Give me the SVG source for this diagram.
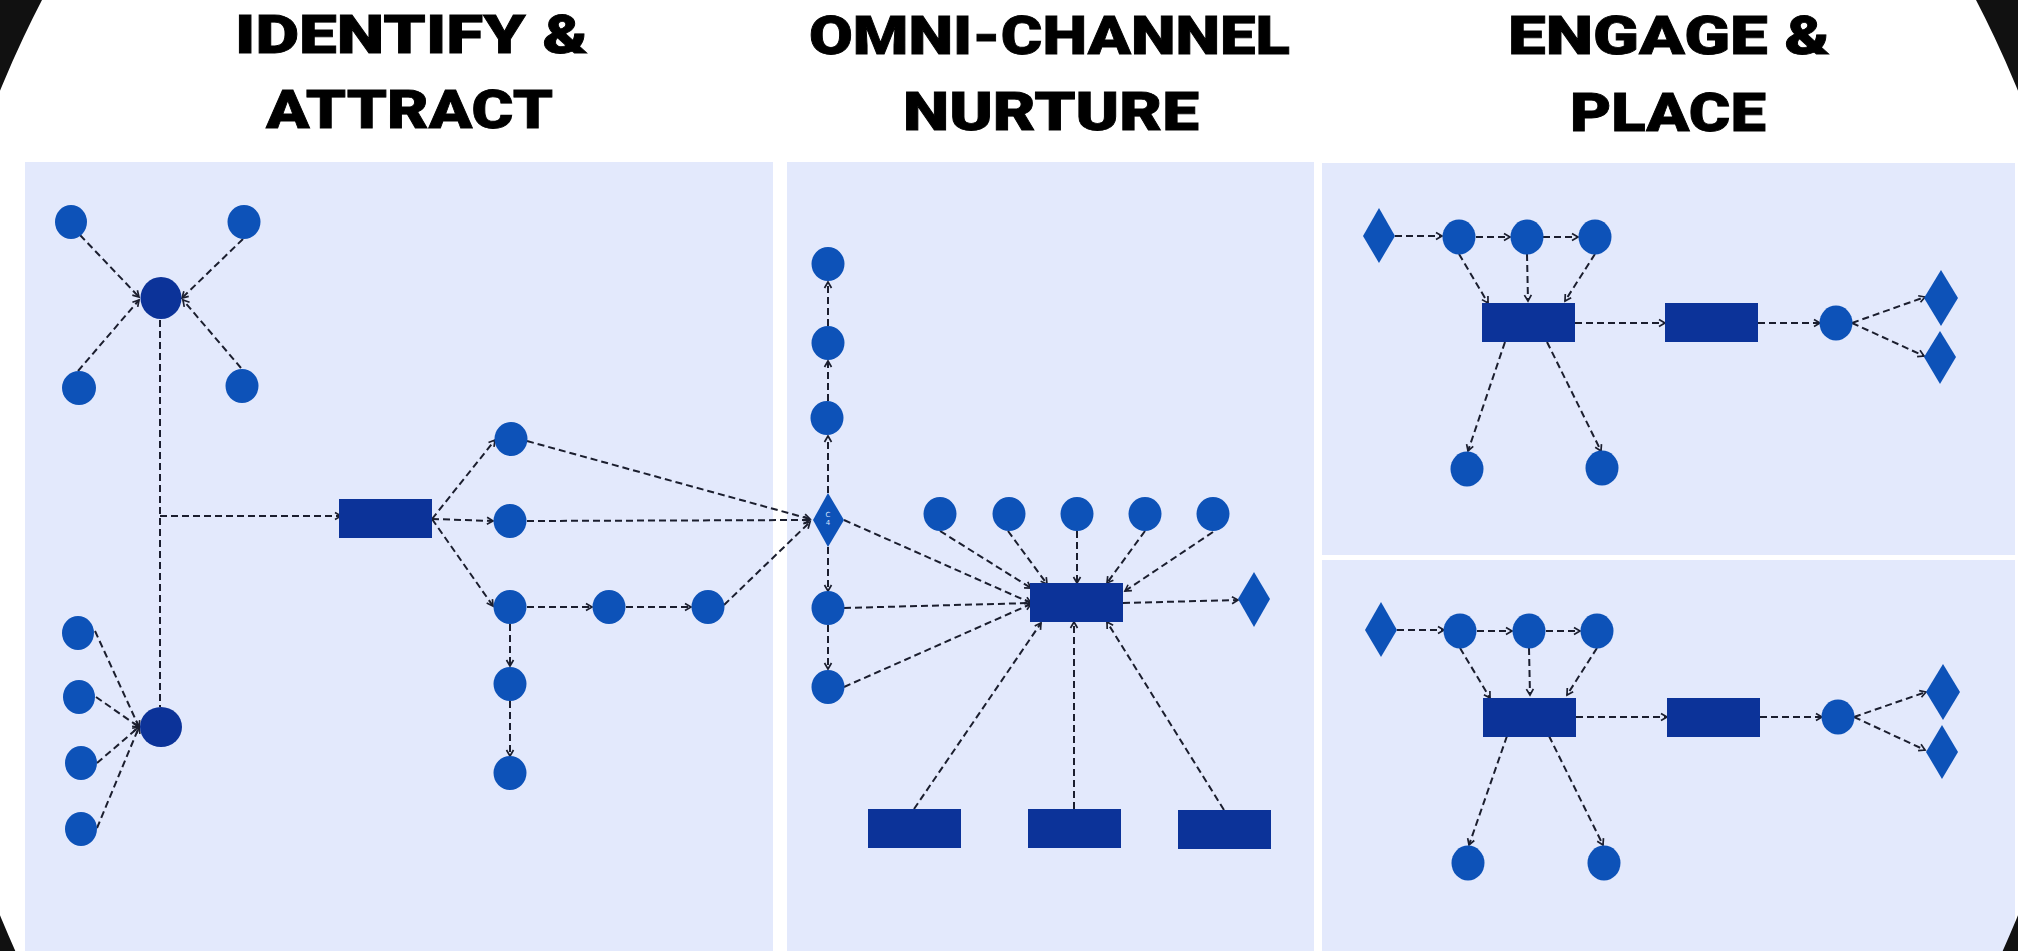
<svg xmlns="http://www.w3.org/2000/svg" width="2018" height="951" viewBox="0 0 2018 951">
<defs>
<style>
.title{font-family:Roboto,"Inter","DejaVu Sans",sans-serif;font-weight:900;font-size:54px;fill:#000;stroke:#000;stroke-width:0.8}
.panel{fill:#E3E9FC}
.c{fill:#0D52B8}
.d{fill:#0C3399}
.r{fill:#0C3399}
.dm{fill:#0D52B8}
.e{stroke:#1B1E2E;stroke-width:2;stroke-dasharray:7 4;fill:none}
.ea{marker-end:url(#arr)}
.lbl{font-family:"DejaVu Sans",sans-serif;font-size:7px;fill:#D8E4FF;text-anchor:middle}
</style>
<marker id="arr" viewBox="0 0 10 10" refX="8" refY="5" markerWidth="10" markerHeight="10" markerUnits="userSpaceOnUse" orient="auto">
<path d="M2,1.5 L8,5 L2,8.5" fill="none" stroke="#1B1E2E" stroke-width="1.7"/>
</marker>
</defs>
<rect x="0" y="0" width="2018" height="951" fill="#FFFFFF"/>
<g id="panels">
<rect class="panel" x="25" y="162" width="748" height="789"/>
<rect class="panel" x="787" y="162" width="527" height="789"/>
<rect class="panel" x="1322" y="163" width="693" height="392"/>
<rect class="panel" x="1322" y="560" width="693" height="391"/>
</g>
<path id="corners" fill="#111111" fill-rule="evenodd" d="M0,0 H2018 V951 H0 Z M-81,503 a1090,1090 0 1,0 2180,0 a1090,1090 0 1,0 -2180,0 Z"/>
<g id="titles">
<text class="title" x="235" y="53" textLength="353" lengthAdjust="spacingAndGlyphs">IDENTIFY &amp;</text>
<text class="title" x="266" y="128" textLength="287" lengthAdjust="spacingAndGlyphs">ATTRACT</text>
<text class="title" x="809" y="54" textLength="481" lengthAdjust="spacingAndGlyphs">OMNI-CHANNEL</text>
<text class="title" x="903" y="130" textLength="296" lengthAdjust="spacingAndGlyphs">NURTURE</text>
<text class="title" x="1508" y="54" textLength="322" lengthAdjust="spacingAndGlyphs">ENGAGE &amp;</text>
<text class="title" x="1570" y="131" textLength="196" lengthAdjust="spacingAndGlyphs">PLACE</text>
</g>
<g id="connectors">
<line class="e ea" x1="80" y1="235" x2="139" y2="297"/>
<line class="e ea" x1="243" y1="239" x2="182" y2="298"/>
<line class="e ea" x1="78" y1="371" x2="139" y2="300"/>
<line class="e ea" x1="241" y1="368" x2="183" y2="300"/>
<line class="e" x1="160" y1="320" x2="160" y2="707"/>
<line class="e ea" x1="160" y1="516" x2="341" y2="516"/>
<line class="e ea" x1="432" y1="519" x2="495" y2="440"/>
<line class="e ea" x1="432" y1="519" x2="493" y2="521"/>
<line class="e ea" x1="432" y1="519" x2="493" y2="606"/>
<line class="e ea" x1="527" y1="607" x2="592" y2="607"/>
<line class="e ea" x1="626" y1="607" x2="691" y2="607"/>
<line class="e ea" x1="510" y1="624" x2="510" y2="666"/>
<line class="e ea" x1="510" y1="701" x2="510" y2="756"/>
<line class="e ea" x1="95" y1="631" x2="139" y2="727"/>
<line class="e ea" x1="96" y1="697" x2="139" y2="727"/>
<line class="e ea" x1="97" y1="763" x2="139" y2="727"/>
<line class="e ea" x1="97" y1="828" x2="139" y2="727"/>
<line class="e ea" x1="527" y1="441" x2="810" y2="519"/>
<line class="e ea" x1="527" y1="521" x2="810" y2="520"/>
<line class="e ea" x1="724" y1="605" x2="810" y2="522"/>
<line class="e ea" x1="828" y1="493" x2="828" y2="436"/>
<line class="e ea" x1="828" y1="401" x2="828" y2="361"/>
<line class="e ea" x1="828" y1="326" x2="828" y2="282"/>
<line class="e ea" x1="828" y1="547" x2="828" y2="591"/>
<line class="e ea" x1="828" y1="625" x2="828" y2="669"/>
<line class="e ea" x1="844" y1="520" x2="1031" y2="603"/>
<line class="e ea" x1="844" y1="608" x2="1031" y2="603"/>
<line class="e ea" x1="844" y1="687" x2="1031" y2="604"/>
<line class="e ea" x1="940" y1="531" x2="1031" y2="588"/>
<line class="e ea" x1="1008" y1="531" x2="1047" y2="584"/>
<line class="e ea" x1="1077" y1="531" x2="1077" y2="583"/>
<line class="e ea" x1="1145" y1="531" x2="1107" y2="583"/>
<line class="e ea" x1="1213" y1="532" x2="1125" y2="591"/>
<line class="e ea" x1="1123" y1="603" x2="1238" y2="600"/>
<line class="e ea" x1="914" y1="809" x2="1041" y2="623"/>
<line class="e ea" x1="1074" y1="809" x2="1074" y2="622"/>
<line class="e ea" x1="1224" y1="810" x2="1107" y2="622"/>
<line class="e ea" x1="1395" y1="236" x2="1442" y2="236"/>
<line class="e ea" x1="1476" y1="237" x2="1510" y2="237"/>
<line class="e ea" x1="1543" y1="237" x2="1578" y2="237"/>
<line class="e ea" x1="1459" y1="254" x2="1488" y2="303"/>
<line class="e ea" x1="1527" y1="254" x2="1528" y2="301"/>
<line class="e ea" x1="1595" y1="254" x2="1565" y2="301"/>
<line class="e ea" x1="1575" y1="323" x2="1665" y2="323"/>
<line class="e ea" x1="1758" y1="323" x2="1820" y2="323"/>
<line class="e ea" x1="1852" y1="323" x2="1925" y2="297"/>
<line class="e ea" x1="1852" y1="323" x2="1924" y2="356"/>
<line class="e ea" x1="1505" y1="342" x2="1468" y2="451"/>
<line class="e ea" x1="1547" y1="342" x2="1601" y2="451"/>
<line class="e ea" x1="1397" y1="630" x2="1444" y2="630"/>
<line class="e ea" x1="1477" y1="631" x2="1512" y2="631"/>
<line class="e ea" x1="1546" y1="631" x2="1580" y2="631"/>
<line class="e ea" x1="1460" y1="648" x2="1490" y2="698"/>
<line class="e ea" x1="1529" y1="648" x2="1530" y2="695"/>
<line class="e ea" x1="1597" y1="648" x2="1567" y2="695"/>
<line class="e ea" x1="1576" y1="717" x2="1667" y2="717"/>
<line class="e ea" x1="1760" y1="717" x2="1822" y2="717"/>
<line class="e ea" x1="1854" y1="717" x2="1926" y2="692"/>
<line class="e ea" x1="1854" y1="717" x2="1925" y2="750"/>
<line class="e ea" x1="1507" y1="736" x2="1469" y2="845"/>
<line class="e ea" x1="1549" y1="736" x2="1603" y2="845"/>
</g>
<g id="n-p1-tl"><ellipse class="c" cx="71" cy="222" rx="16" ry="17"/></g>
<g id="n-p1-tr"><ellipse class="c" cx="244" cy="222" rx="16.5" ry="17"/></g>
<g id="n-p1-bl"><ellipse class="c" cx="79" cy="388" rx="17" ry="17"/></g>
<g id="n-p1-br"><ellipse class="c" cx="242" cy="386" rx="16.5" ry="17"/></g>
<g id="n-p1-hub1"><ellipse class="d" cx="161" cy="298" rx="20.5" ry="21"/></g>
<g id="n-p1-l1"><ellipse class="c" cx="78" cy="633" rx="16" ry="17"/></g>
<g id="n-p1-l2"><ellipse class="c" cx="79" cy="697" rx="16" ry="17"/></g>
<g id="n-p1-l3"><ellipse class="c" cx="81" cy="763" rx="16" ry="17"/></g>
<g id="n-p1-l4"><ellipse class="c" cx="81" cy="829" rx="16" ry="17"/></g>
<g id="n-p1-hub2"><ellipse class="d" cx="161" cy="727" rx="21" ry="20"/></g>
<g id="n-p1-rect"><rect class="r" x="339" y="499" width="93" height="39"/></g>
<g id="n-p1-a"><ellipse class="c" cx="511" cy="439" rx="16.5" ry="17"/></g>
<g id="n-p1-b"><ellipse class="c" cx="510" cy="521" rx="16.5" ry="17"/></g>
<g id="n-p1-c"><ellipse class="c" cx="510" cy="607" rx="16.5" ry="17"/></g>
<g id="n-p1-d"><ellipse class="c" cx="609" cy="607" rx="16.5" ry="17"/></g>
<g id="n-p1-e"><ellipse class="c" cx="708" cy="607" rx="16.5" ry="17"/></g>
<g id="n-p1-f"><ellipse class="c" cx="510" cy="684" rx="16.5" ry="17"/></g>
<g id="n-p1-g"><ellipse class="c" cx="510" cy="773" rx="16.5" ry="17"/></g>
<g id="n-p2-c4"><polygon class="dm" points="828,493 844,520 828,547 813,520"/><text class="lbl" x="828" y="517">C</text><text class="lbl" x="828" y="525">4</text></g>
<g id="n-p2-u1"><ellipse class="c" cx="828" cy="264" rx="16.5" ry="17"/></g>
<g id="n-p2-u2"><ellipse class="c" cx="828" cy="343" rx="16.5" ry="17"/></g>
<g id="n-p2-u3"><ellipse class="c" cx="827" cy="418" rx="16.5" ry="17"/></g>
<g id="n-p2-d1"><ellipse class="c" cx="828" cy="608" rx="16.5" ry="17"/></g>
<g id="n-p2-d2"><ellipse class="c" cx="828" cy="687" rx="16.5" ry="17"/></g>
<g id="n-p2-t1"><ellipse class="c" cx="940" cy="514" rx="16.5" ry="17"/></g>
<g id="n-p2-t2"><ellipse class="c" cx="1009" cy="514" rx="16.5" ry="17"/></g>
<g id="n-p2-t3"><ellipse class="c" cx="1077" cy="514" rx="16.5" ry="17"/></g>
<g id="n-p2-t4"><ellipse class="c" cx="1145" cy="514" rx="16.5" ry="17"/></g>
<g id="n-p2-t5"><ellipse class="c" cx="1213" cy="514" rx="16.5" ry="17"/></g>
<g id="n-p2-rect"><rect class="r" x="1030" y="583" width="93" height="39"/></g>
<g id="n-p2-diamond"><polygon class="dm" points="1254,572 1270,599 1254,627 1238,599"/></g>
<g id="n-p2-b1"><rect class="r" x="868" y="809" width="93" height="39"/></g>
<g id="n-p2-b2"><rect class="r" x="1028" y="809" width="93" height="39"/></g>
<g id="n-p2-b3"><rect class="r" x="1178" y="810" width="93" height="39"/></g>
<g id="n-p3u-dia"><polygon class="dm" points="1379,208 1395,236 1379,263 1363,236"/></g>
<g id="n-p3u-a"><ellipse class="c" cx="1459" cy="237" rx="16.5" ry="17.5"/></g>
<g id="n-p3u-b"><ellipse class="c" cx="1527" cy="237" rx="16.5" ry="17.5"/></g>
<g id="n-p3u-c"><ellipse class="c" cx="1595" cy="237" rx="16.5" ry="17.5"/></g>
<g id="n-p3u-ra"><rect class="r" x="1482" y="303" width="93" height="39"/></g>
<g id="n-p3u-rb"><rect class="r" x="1665" y="303" width="93" height="39"/></g>
<g id="n-p3u-d"><ellipse class="c" cx="1836" cy="323" rx="16.5" ry="17.5"/></g>
<g id="n-p3u-dia1"><polygon class="dm" points="1941,270 1958,298 1941,326 1924,298"/></g>
<g id="n-p3u-dia2"><polygon class="dm" points="1940,331 1956,357 1940,384 1924,357"/></g>
<g id="n-p3u-e"><ellipse class="c" cx="1467" cy="469" rx="16.5" ry="17.5"/></g>
<g id="n-p3u-f"><ellipse class="c" cx="1602" cy="468" rx="16.5" ry="17.5"/></g>
<g id="n-p3l-dia"><polygon class="dm" points="1381,602 1397,630 1381,657 1365,630"/></g>
<g id="n-p3l-a"><ellipse class="c" cx="1460" cy="631" rx="16.5" ry="17.5"/></g>
<g id="n-p3l-b"><ellipse class="c" cx="1529" cy="631" rx="16.5" ry="17.5"/></g>
<g id="n-p3l-c"><ellipse class="c" cx="1597" cy="631" rx="16.5" ry="17.5"/></g>
<g id="n-p3l-ra"><rect class="r" x="1483" y="698" width="93" height="39"/></g>
<g id="n-p3l-rb"><rect class="r" x="1667" y="698" width="93" height="39"/></g>
<g id="n-p3l-d"><ellipse class="c" cx="1838" cy="717" rx="16.5" ry="17.5"/></g>
<g id="n-p3l-dia1"><polygon class="dm" points="1943,664 1960,692 1943,720 1926,692"/></g>
<g id="n-p3l-dia2"><polygon class="dm" points="1942,725 1958,752 1942,779 1926,752"/></g>
<g id="n-p3l-e"><ellipse class="c" cx="1468" cy="863" rx="16.5" ry="17.5"/></g>
<g id="n-p3l-f"><ellipse class="c" cx="1604" cy="863" rx="16.5" ry="17.5"/></g>
</svg>
